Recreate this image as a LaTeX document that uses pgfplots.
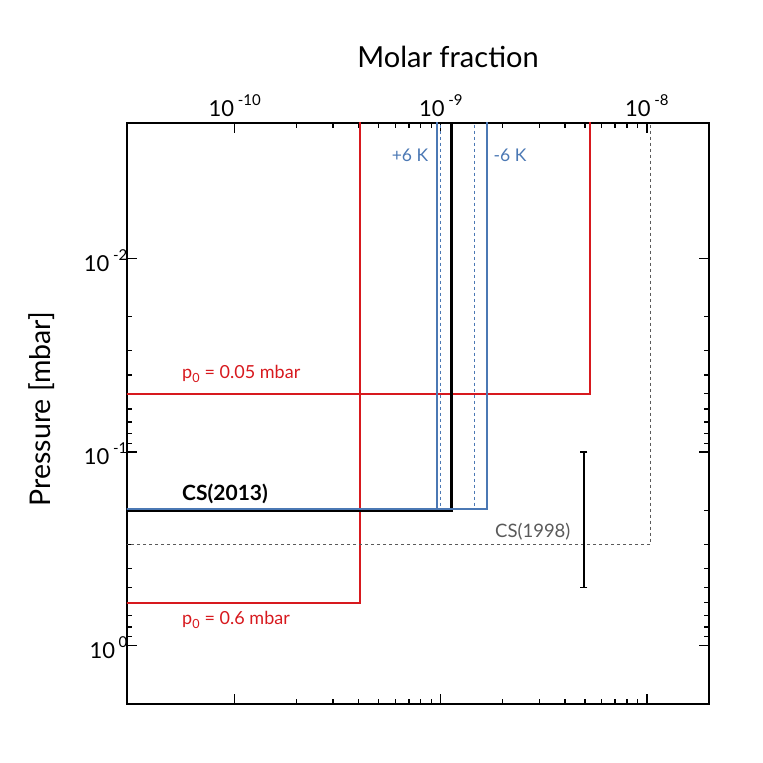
\documentclass[border=0pt]{standalone}
\usepackage{pgfplots}
\pgfplotsset{compat=1.18}
\usepackage{fontspec}
\setmainfont{Lato}
\definecolor{myred}{RGB}{215,25,30}
\definecolor{myblue}{RGB}{75,120,180}
\definecolor{mygrey}{RGB}{90,90,90}
\newcommand\tl[1]{10\,\raisebox{0.5em}{\fontsize{15}{18}\selectfont#1}}
\begin{document}
\begin{tikzpicture}
\useasboundingbox (0,0) rectangle (763pt,763pt);
\begin{axis}[at={(127pt,59pt)}, anchor=south west, scale only axis,
  width=582pt, height=581pt,
  xmode=log, ymode=log, y dir=reverse,
  xmin=3e-11, xmax=2e-8, ymin=2e-3, ymax=2,
  xtick={1e-10,1e-9,1e-8},
  xticklabels={\tl{-10},\tl{-9},\tl{-8}},
  ytick={1e-2,1e-1,1},
  yticklabels={\tl{-2},\tl{-1},\tl{0}},
  xticklabel pos=upper, tick align=inside,
  major tick length=10pt, minor tick length=5pt,
  tick style={black, line width=1.2pt}, axis line style={line width=1.2pt},
  ticklabel style={font=\fontsize{22}{26}\selectfont},
  xticklabel style={yshift=3pt},
  yticklabel style={xshift=4pt, yshift=-2pt},
  clip=true]
\addplot[myred, line width=2pt] coordinates {(5.28e-9,1e-3)(5.28e-9,0.05)(1e-11,0.05)};
\addplot[myred, line width=2pt] coordinates {(4.04e-10,1e-3)(4.04e-10,0.6)(1e-11,0.6)};
\addplot[mygrey, dashed, line width=1.2pt] coordinates {(1.04e-8,1e-3)(1.04e-8,0.3)(1e-11,0.3)};
\addplot[black, line width=3pt] coordinates {(1.13e-9,1e-3)(1.13e-9,0.2)(1e-11,0.2)};
\addplot[myblue, line width=2pt] coordinates {(9.56e-10,1e-3)(9.56e-10,0.198)(1e-11,0.198)};
\addplot[myblue, line width=2pt] coordinates {(1.67e-9,1e-3)(1.67e-9,0.198)(1e-11,0.198)};
\addplot[myblue, dashed, line width=1.2pt] coordinates {(1.0e-9,1e-3)(1.0e-9,0.198)};
\addplot[myblue, dashed, line width=1.2pt] coordinates {(1.46e-9,1e-3)(1.46e-9,0.198)};
\addplot[black, line width=1.5pt, mark=-, mark size=3.5pt, mark options={solid}] coordinates {(4.94e-9,0.1)(4.94e-9,0.5)};
\end{axis}
\node[font=\fontsize{29}{34}\selectfont] at (448pt,706pt) {Molar fraction};
\node[font=\fontsize{28.5}{34}\selectfont, rotate=90] at (42pt,354pt) {Pressure [mbar]};
\node[font=\fontsize{17.5}{20}\selectfont, text=myblue] at (410pt,608pt) {+6 K};
\node[font=\fontsize{17.5}{20}\selectfont, text=myblue] at (510pt,608pt) {-6 K};
\node[font=\fontsize{18}{21}\selectfont, text=myred, anchor=west, inner sep=0pt] at (182pt,389pt) {p\textsubscript{0} = 0.05 mbar};
\node[font=\fontsize{18}{21}\selectfont, text=myred, anchor=west, inner sep=0pt] at (182pt,143pt) {p\textsubscript{0} = 0.6 mbar};
\node[font=\fontsize{21}{24}\selectfont\bfseries, anchor=west, inner sep=0pt] at (182pt,269pt) {CS(2013)};
\node[font=\fontsize{18.5}{22}\selectfont, text=mygrey, anchor=west, inner sep=0pt] at (495pt,231pt) {CS(1998)};
\end{tikzpicture}
\end{document}
